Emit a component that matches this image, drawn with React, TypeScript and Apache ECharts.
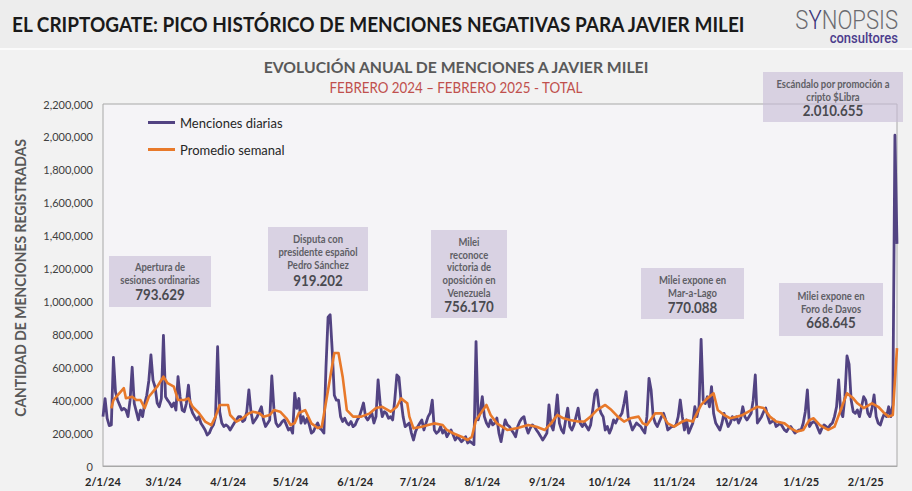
import React, { useEffect, useRef } from 'react';
import * as echarts from 'echarts';

// ---------- data (values in thousands of mentions) ----------
const monthTickLabels = ['2/1/24', '3/1/24', '4/1/24', '5/1/24', '6/1/24', '7/1/24', '8/1/24', '9/1/24', '10/1/24', '11/1/24', '12/1/24', '1/1/25', '2/1/25'];
const firstDay = { year: 2024, month: 2, day: 1 };

const feb24 = [300, 410, 290, 245, 250, 660, 450, 400, 370, 340, 350, 340, 300, 400, 600, 380, 330, 280, 340, 300, 380, 430, 520, 675, 520, 480, 383, 360, 410];
const mar24 = [793.629, 421, 400, 383, 360, 383, 340, 543, 420, 340, 330, 380, 492, 360, 322, 300, 280, 300, 260, 240, 219, 188, 200, 230, 250, 300, 725, 330, 261, 240, 250];
const apr24 = [240, 219, 240, 261, 280, 300, 300, 270, 280, 330, 462, 330, 261, 280, 300, 330, 360, 280, 240, 260, 280, 547, 350, 261, 240, 250, 270, 280, 250, 219];
const may24 = [230, 200, 443, 350, 410, 261, 300, 260, 290, 250, 200, 210, 240, 261, 230, 219, 200, 600, 905, 919.202, 700, 430, 400, 400, 300, 270, 290, 261, 250, 270, 239];
const jun24 = [250, 280, 300, 340, 383, 300, 280, 300, 322, 261, 300, 523, 380, 300, 330, 320, 290, 300, 280, 400, 553, 540, 400, 300, 239, 250, 261, 200, 158, 210];
const jul24 = [239, 260, 280, 219, 261, 300, 322, 400, 219, 199, 210, 239, 200, 220, 178, 200, 219, 190, 158, 178, 165, 148, 160, 178, 140, 150, 140, 130, 756.17, 280, 330];
const aug24 = [421, 300, 261, 239, 280, 250, 260, 292, 200, 148, 220, 280, 250, 240, 219, 200, 178, 240, 270, 290, 300, 240, 200, 230, 250, 240, 219, 200, 180, 158, 178];
const sep24 = [200, 371, 250, 219, 300, 432, 261, 220, 200, 280, 352, 240, 219, 250, 300, 352, 260, 240, 261, 240, 219, 250, 340, 440, 462, 361, 320, 300, 219, 240];
const oct24 = [200, 230, 280, 261, 290, 300, 320, 380, 452, 300, 261, 219, 240, 261, 250, 240, 219, 200, 300, 533, 462, 300, 261, 240, 270, 300, 320, 280, 219, 230, 240];
const nov24 = [240, 250, 300, 401, 300, 219, 280, 200, 230, 260, 360, 300, 360, 770.088, 401, 380, 421, 360, 482, 320, 261, 240, 219, 260, 320, 280, 240, 261, 300, 280];
const dec24 = [300, 261, 290, 360, 300, 280, 300, 320, 400, 553, 261, 280, 300, 330, 352, 300, 261, 270, 280, 240, 250, 261, 240, 219, 209, 230, 240, 220, 200, 210, 219];
const jan25 = [219, 260, 330, 462, 240, 260, 270, 261, 230, 200, 230, 250, 240, 230, 250, 261, 300, 360, 523, 330, 300, 420, 668.645, 620, 401, 330, 320, 340, 300, 360, 421];
const feb25 = [400, 320, 300, 350, 432, 300, 260, 249, 290, 320, 300, 360, 300, 371, 2010.655, 1350];

// weekly average: [day index from 2/1/24, thousands]
const weeklyAvgPoints: [number, number][] = [
  [4, 350], [5, 401], [10, 473], [11, 412], [14, 421], [16, 401], [18, 401], [20, 352], [22, 421], [26, 482], [29, 543],
  [31, 503], [34, 482], [36, 401], [39, 401], [41, 411], [43, 360], [46, 322], [49, 270], [52, 249], [54, 300], [56, 371],
  [60, 371], [61, 310], [64, 270], [67, 290], [70, 320], [72, 330], [75, 320], [77, 300], [80, 310], [82, 340], [85, 330],
  [88, 290], [90, 249], [92, 261], [94, 322], [97, 340], [100, 259], [103, 231], [105, 239], [108, 462], [111, 687],
  [113, 687], [115, 543], [117, 340], [120, 300], [124, 300], [128, 320], [131, 352], [134, 360], [138, 330], [141, 360],
  [143, 411], [146, 381], [147, 300], [149, 229], [153, 239], [156, 249], [159, 259], [163, 249], [165, 219], [168, 199],
  [172, 178], [175, 158], [177, 178], [179, 280], [184, 371], [186, 310], [189, 259], [194, 219], [199, 231], [204, 249],
  [208, 239], [212, 219], [215, 259], [218, 310], [221, 290], [224, 280], [228, 270], [231, 270], [234, 300], [237, 340],
  [241, 371], [244, 340], [247, 300], [250, 270], [253, 290], [257, 300], [259, 259], [261, 249], [265, 320], [268, 320],
  [271, 259], [274, 239], [278, 270], [280, 280], [283, 270], [287, 371], [290, 411], [293, 442], [295, 340], [298, 310],
  [301, 290], [304, 300], [307, 310], [311, 340], [314, 360], [317, 352], [320, 300], [323, 270], [327, 259], [330, 229],
  [333, 209], [336, 219], [339, 280], [341, 290], [344, 249], [348, 219], [351, 239], [354, 340], [357, 442], [360, 411],
  [362, 381], [365, 352], [369, 381], [372, 360], [375, 320], [377, 300], [379, 310], [380, 520], [381, 716],
];

const seriesNames = ['Menciones diarias', 'Promedio semanal'];

// ---------- annotations (layout) ----------
const notes = [
  { box: [109, 256, 102, 51], lines: ['Apertura de', 'sesiones ordinarias'], y0: 267, value: '793.629', vy: 294 },
  { box: [268, 227, 100, 64], lines: ['Disputa con', 'presidente español', 'Pedro Sánchez'], y0: 239, value: '919.202', vy: 280 },
  { box: [431, 230, 76, 88], lines: ['Milei', 'reconoce', 'victoria de', 'oposición en', 'Venezuela'], y0: 241.5, value: '756.170', vy: 306 },
  { box: [641, 268, 103, 51], lines: ['Milei expone en', 'Mar-a-Lago'], y0: 280, value: '770.088', vy: 307 },
  { box: [779, 283, 104, 53], lines: ['Milei expone en', 'Foro de Davos'], y0: 296, value: '668.645', vy: 322 },
  { box: [763, 72, 140, 50], lines: ['Escándalo por promoción a', 'cripto $Libra'], y0: 84, value: '2.010.655', vy: 110 },
];

const FONT = 'Lato, "Open Sans", sans-serif';

function txt(x: number, y: number, text: string, opts: any = {}) {
  return {
    type: 'text',
    x,
    y,
    scaleX: opts.scaleX ?? 1,
    rotation: opts.rotation ?? 0,
    z: 100,
    style: {
      text,
      fill: opts.fill ?? '#595959',
      fontFamily: opts.fontFamily ?? FONT,
      fontSize: opts.fontSize ?? 11,
      fontWeight: opts.fontWeight ?? 'normal',
      align: opts.align ?? 'center',
      textAlign: opts.align ?? 'center',
      verticalAlign: 'middle',
      textVerticalAlign: 'middle',
      rich: opts.rich,
    },
  };
}

export default function App() {
  const ref = useRef<HTMLDivElement>(null);

  useEffect(() => {
    document.body.style.margin = '0';
    const chart = echarts.init(ref.current!, null, { renderer: 'svg' });

    const dailyK = [...feb24, ...mar24, ...apr24, ...may24, ...jun24, ...jul24, ...aug24, ...sep24, ...oct24, ...nov24, ...dec24, ...jan25, ...feb25];
    const categories: string[] = [];
    for (let i = 0; i < dailyK.length; i++) {
      const d = new Date(Date.UTC(firstDay.year, firstDay.month - 1, firstDay.day + i));
      categories.push(`${d.getUTCMonth() + 1}/${d.getUTCDate()}/${d.getUTCFullYear() % 100}`);
    }
    const daily = dailyK.map((v) => Math.round(v * 1000));
    const weekly: (number | null)[] = new Array(dailyK.length).fill(null);
    weeklyAvgPoints.forEach(([i, v]) => { weekly[i] = Math.round(v * 1000); });

    const graphics: any[] = [
      { type: 'rect', shape: { x: 0, y: 0, width: 912, height: 48 }, style: { fill: '#ededed' }, z: -10 },
      { type: 'rect', shape: { x: 0, y: 48, width: 912, height: 2 }, style: { fill: '#fbfbfb' }, z: -10 },
      txt(12, 24, 'EL CRIPTOGATE: PICO HISTÓRICO DE MENCIONES NEGATIVAS PARA JAVIER MILEI', { align: 'left', fontSize: 21, fontWeight: 'bold', fill: '#1a1a1a', scaleX: 0.905 }),
      txt(898, 20, '{a|S}{b|Y}{a|NOPSIS}', {
        align: 'right', scaleX: 0.85,
        rich: {
          a: { fontFamily: 'Roboto', fontWeight: 300, fontSize: 26, fill: '#6b6b70', color: '#6b6b70' },
          b: { fontFamily: 'Roboto', fontWeight: 300, fontSize: 26, fill: '#3a3478', color: '#3a3478' },
        },
      }),
      txt(898, 38, 'consultores', { align: 'right', fontFamily: 'Roboto', fontWeight: 500, fontSize: 14, fill: '#4b3c8c', scaleX: 0.93 }),
      txt(456, 66, 'EVOLUCIÓN ANUAL DE MENCIONES A JAVIER MILEI', { fontSize: 16, fontWeight: 'bold', fill: '#595959', scaleX: 0.985 }),
      txt(456, 87, 'FEBRERO 2024 – FEBRERO 2025 - TOTAL', { fontSize: 15, fill: '#c0504d', scaleX: 0.89 }),
      txt(20, 278, 'CANTIDAD DE MENCIONES REGISTRADAS', { fontSize: 15, fontWeight: 'bold', fill: '#595959', rotation: Math.PI / 2, scaleX: 0.93 }),
    ];

    notes.forEach((n) => {
      const [bx, by, bw, bh] = n.box;
      graphics.push({ type: 'rect', shape: { x: bx, y: by, width: bw, height: bh }, style: { fill: 'rgba(200,189,214,0.62)' }, z: 90 });
      const cx = bx + bw / 2;
      n.lines.forEach((l, i) => {
        graphics.push(txt(cx, n.y0 + i * 12.8, l, { fontSize: 10.5, fontWeight: 'bold', fill: '#5f5f66', scaleX: 0.9 }));
      });
      graphics.push(txt(cx, n.vy, n.value, { fontSize: 14.5, fontWeight: 'bold', fill: '#4a4a50', scaleX: 0.92 }));
    });

    const option: any = {
      animation: false,
      backgroundColor: '#f2f2f2',
      textStyle: { fontFamily: FONT },
      grid: {
        left: 103, right: 15, top: 104, bottom: 25,
        show: true, backgroundColor: '#f5f4f7', borderColor: '#a8a8a8', borderWidth: 1,
      },
      legend: {
        orient: 'vertical', left: 143, top: 111, itemWidth: 27, itemHeight: 3, itemGap: 14,
        icon: 'rect', selectedMode: false,
        textStyle: { fontFamily: FONT, fontSize: 13, color: '#262626' },
        data: seriesNames,
      },
      xAxis: {
        type: 'category',
        data: categories,
        boundaryGap: false,
        axisLine: { show: true, lineStyle: { color: '#a8a8a8' } },
        axisTick: { show: false },
        axisLabel: {
          interval: (_i: number, v: string) => monthTickLabels.includes(v),
          fontFamily: FONT, fontSize: 11, fontWeight: 'bold', color: '#262626', margin: 10,
        },
        splitLine: { show: false },
      },
      yAxis: {
        type: 'value',
        min: 0, max: 2200000, interval: 200000,
        axisLine: { show: false },
        axisTick: { show: false },
        splitLine: { show: false },
        axisLabel: {
          formatter: (v: number) => v.toLocaleString('en-US'),
          fontFamily: FONT, fontSize: 11, color: '#404040', margin: 10,
        },
      },
      series: [
        {
          name: seriesNames[0], type: 'line', data: daily, showSymbol: false, symbol: 'none',
          lineStyle: { color: '#524382', width: 2.8, join: 'round' }, itemStyle: { color: '#524382' },
          z: 2,
        },
        {
          name: seriesNames[1], type: 'line', data: weekly, connectNulls: true, showSymbol: false, symbol: 'none',
          lineStyle: { color: '#e8792a', width: 2.6, join: 'round' }, itemStyle: { color: '#e8792a' },
          z: 3,
        },
      ],
      graphic: graphics,
    };
    chart.setOption(option);
    return () => chart.dispose();
  }, []);

  return <div ref={ref} style={{ position: 'fixed', left: 0, top: 0, width: 912, height: 491 }} />;
}
